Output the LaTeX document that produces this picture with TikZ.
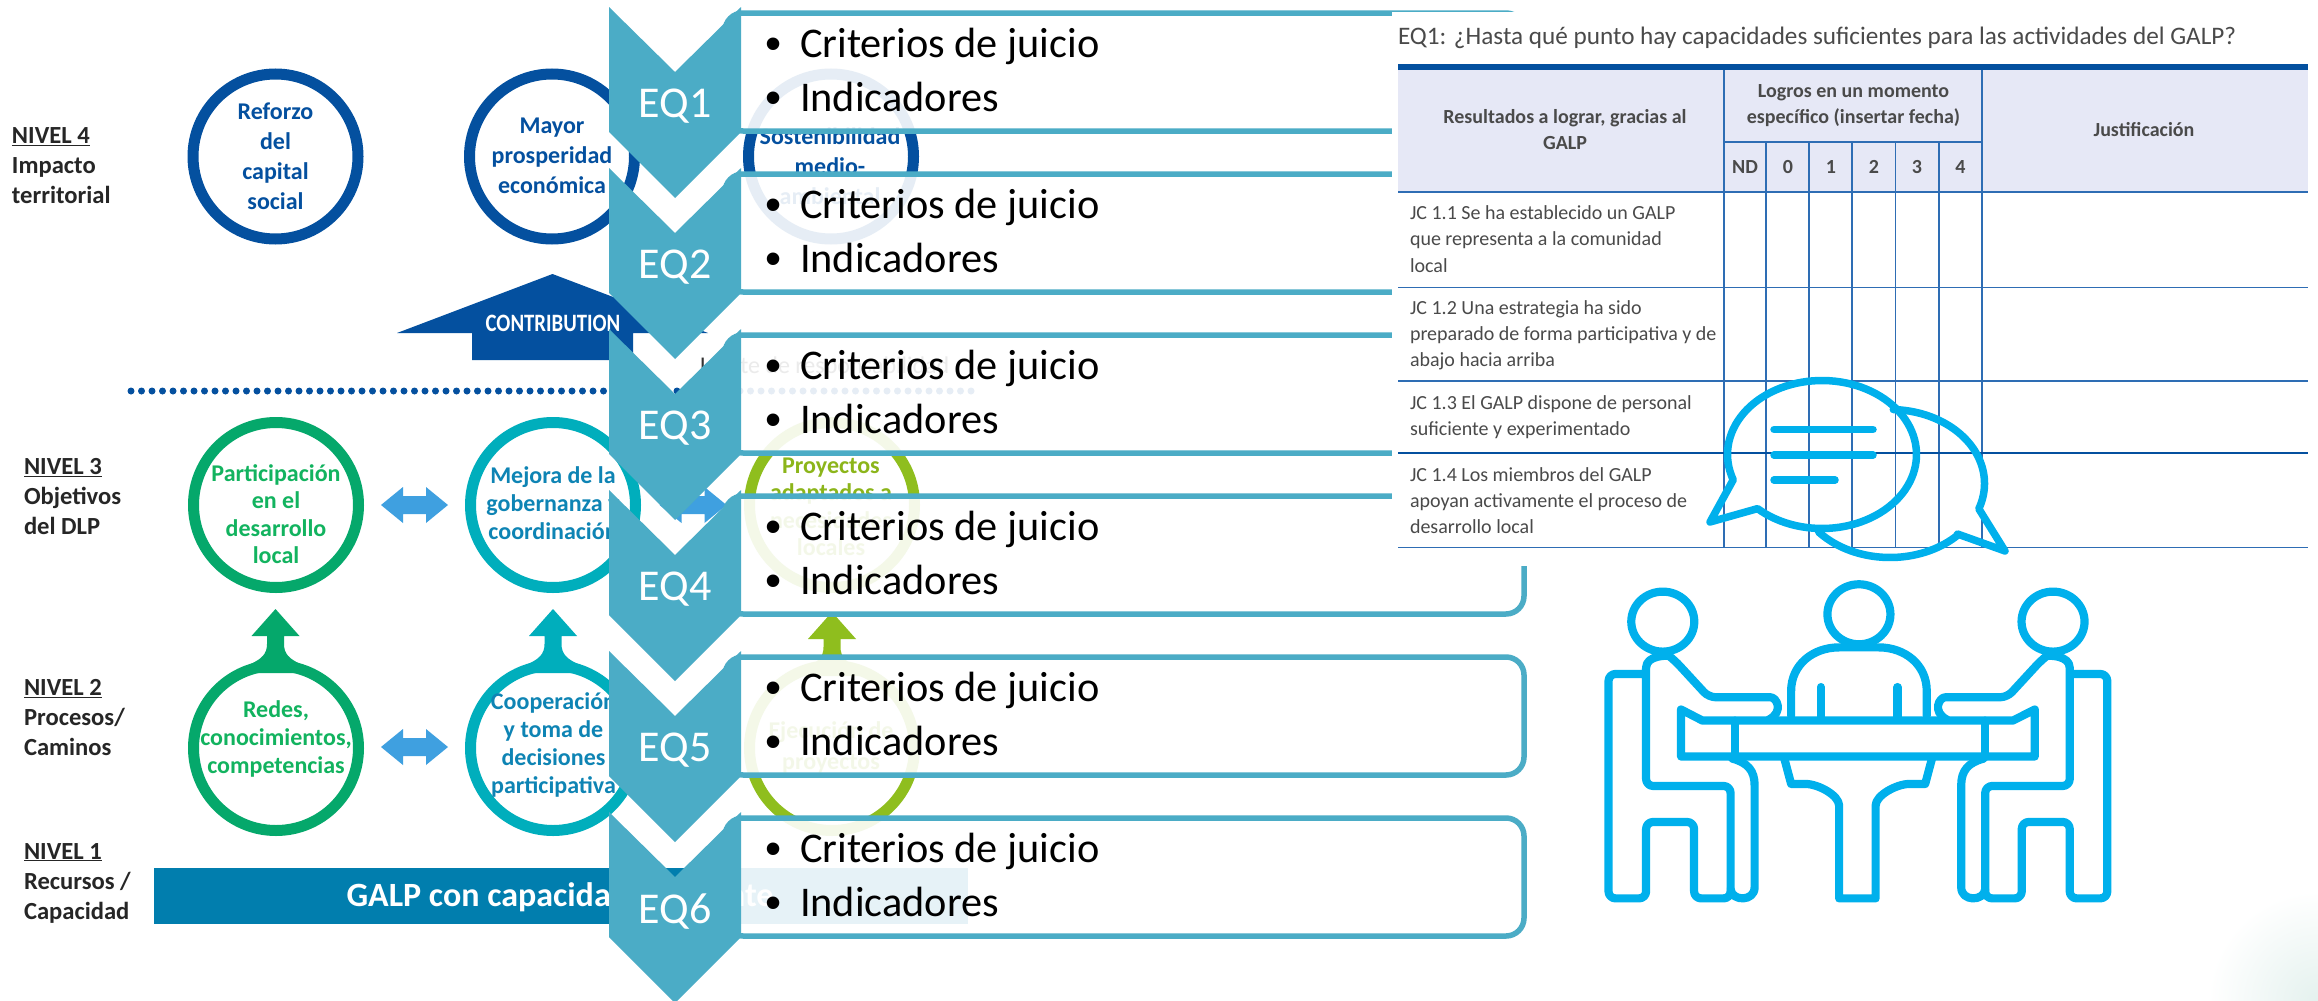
\documentclass[tikz,border=0pt]{standalone}
\usepackage{fontspec}
\setmainfont{Carlito}
\newfontfamily\bulletfont{Liberation Sans}
\definecolor{eqteal}{HTML}{4BACC6}
\definecolor{navy}{HTML}{04509F}
\definecolor{gringreen}{HTML}{05A86B}
\definecolor{grntext}{HTML}{12B35F}
\definecolor{ringteal}{HTML}{00AEBC}
\definecolor{blutext}{HTML}{0E84B4}
\definecolor{lime}{HTML}{8FBE1E}
\definecolor{limetext}{HTML}{8CB51A}
\definecolor{arrowblue}{HTML}{3FA0E0}
\definecolor{barblue}{HTML}{017EAE}
\definecolor{tline}{HTML}{2E6DB4}
\definecolor{thead}{HTML}{E6E8F6}
\definecolor{tgrey}{HTML}{4A4A4A}
\definecolor{iconblue}{HTML}{00B0EC}
\definecolor{cornertint}{HTML}{E4F1EE}
\newcommand{\fs}[2]{\fontsize{#1}{#2}\selectfont}
\tikzset{
  every node/.style={inner sep=0pt,outer sep=0pt},
  lab/.style={anchor=west,align=left,font=\fs{24.6}{30}\bfseries,text=black!85},
  ctxt/.style={align=center,font=\fs{24}{#1}\bfseries},
  ctxt/.default=30,
  ring/.style={draw=#1,line width=11pt},
  dbl/.style={fill=arrowblue},
  eqbox/.style={draw=eqteal,fill=white,fill opacity=.9,line width=5.5pt,rounded corners=18pt},
  chev/.style={fill=eqteal},
  eqlabel/.style={text=white,font=\fs{44}{50}},
  item/.style={anchor=base west,font=\fs{42.3}{50},text=black},
  bul/.style={anchor=base,font=\fs{46}{50}\bulletfont,text=black},
  tl/.style={draw=tline,line width=1.3pt},
  thd/.style={align=center,text=tgrey,font=\fs{20}{26}\bfseries},
  trow/.style={anchor=west,align=left,text=tgrey,font=\fs{20}{26.2}},
  icon/.style={draw=iconblue,line width=8.2pt,line join=round,line cap=round},
}
\newcommand{\dblarrow}[2]{\fill[dbl] (#1-33.5,#2) -- (#1-11.5,#2-18) -- (#1-11.5,#2-9) -- (#1+11.5,#2-9) -- (#1+11.5,#2-18) -- (#1+33.5,#2) -- (#1+11.5,#2+18) -- (#1+11.5,#2+9) -- (#1-11.5,#2+9) -- (#1-11.5,#2+18) -- cycle;}
\newcommand{\uparrowshape}[3]{\fill[#3] (#1,#2) -- (#1+24,#2+27) -- (#1+8.5,#2+27) -- (#1+8.5,#2+35) .. controls (#1+8.5,#2+45) and (#1+14,#2+50) .. (#1+25,#2+55) -- (#1+38,#2+64) -- (#1-38,#2+64) -- (#1-25,#2+55) .. controls (#1-14,#2+50) and (#1-8.5,#2+45) .. (#1-8.5,#2+35) -- (#1-8.5,#2+27) -- (#1-24,#2+27) -- cycle;}
\newcommand{\personpath}{%
  \draw[icon] (312,640) ellipse[x radius=31.5pt,y radius=30pt];
  \draw[icon,rounded corners=7pt] (515,880) .. controls (545,860) and (530,825) .. (505,825) -- (400,825) -- (335,735) .. controls (322,722) and (280,722) .. (280,770) -- (280,1042) -- (442,1042) -- (442,1317) -- (372,1317) -- (372,1130) -- (280,1130) -- (280,1317) -- (208,1317) -- (208,768) -- (280,768);
  \draw[icon] (445,975) .. controls (475,985) and (488,1005) .. (488,1040) -- (488,1290) .. controls (488,1325) and (445,1325) .. (442,1295);
}
\begin{document}
\begin{tikzpicture}[x=1pt,y=-1pt]
\useasboundingbox (0,0) rectangle (2318,1001);
\fill[white] (0,0) rectangle (2318,1001);
\begin{scope}
  \clip (0,0) rectangle (2318,1001);
  \shade[inner color=cornertint,outer color=white] (2318,1001) circle[radius=110pt];
\end{scope}

% ---------- left-hand levels image
\node[lab] (n4) at (12,166) {\underline{NIVEL 4}\\Impacto\\territorial};
\node[lab] (n3) at (24,497) {\underline{NIVEL 3}\\Objetivos\\del DLP};
\node[lab] (n2) at (24,718) {\underline{NIVEL 2}\\Procesos/\\Caminos};
\node[lab] (n1) at (24,883) {\underline{NIVEL 1}\\Recursos /\\Capacidad};

\draw[ring=navy] (275.5,156.5) circle[radius=82.5pt];
\draw[ring=navy] (552,156.5) circle[radius=82.5pt];
\draw[ring=navy] (831,156.5) circle[radius=82.5pt];
\node[ctxt,text=navy] (c41) at (275.5,156) {Reforzo\\del\\capital\\social};
\node[ctxt,text=navy] (c42) at (552,156) {Mayor\\prosperidad\\económica};
\node[ctxt,text=navy] (c43) at (830,166) {Sostenibilidad\\medio-\\ambiental};

\fill[navy] (552.5,274) -- (708,333) -- (633,333) -- (633,360) -- (472,360) -- (472,333) -- (397,333) -- cycle;
\node[text=white,font=\fs{25}{30}\bfseries] (contrib) at (553,323) {\scalebox{.83}[1]{CONTRIBUTION}};
\node[anchor=base west,font=\fs{24}{30},text=black!80] (limite) at (700,373) {Límite de responsabilidad};
\draw[navy,line width=7pt,line cap=round,dash pattern=on 0pt off 10.5pt] (131,391) -- (971,391);

\draw[ring=gringreen] (276,505) circle[radius=82.5pt];
\draw[ring=ringteal] (553,505) circle[radius=82.5pt];
\draw[ring=lime] (832,505) circle[radius=82.5pt];
\node[ctxt=27.5,text=grntext] (c31) at (276,514) {Participación\\en el\\desarrollo\\local};
\node[ctxt=28,text=blutext] (c32) at (553,503) {Mejora de la\\gobernanza y\\coordinación};
\node[ctxt=27.5,text=limetext] (c33) at (831,507) {Proyectos\\adaptados a\\necesidades\\locales};
\dblarrow{414.5}{505}
\dblarrow{693}{505}

\uparrowshape{275.5}{609}{gringreen}
\uparrowshape{553}{609}{ringteal}
\uparrowshape{832}{612}{lime}
\draw[ring=gringreen] (276,748) circle[radius=82.5pt];
\draw[ring=ringteal] (553,748) circle[radius=82.5pt];
\draw[ring=lime] (832,748) circle[radius=82.5pt];
\node[ctxt=28,text=grntext] (c21) at (276,739) {Redes,\\conocimientos,\\competencias};
\node[ctxt=28,text=blutext] (c22) at (553.5,745) {Cooperación\\y toma de\\decisiones\\participativa};
\node[ctxt=31,text=limetext] (c23) at (831,747) {Ejecución de\\proyectos};
\dblarrow{414.5}{747}

\fill[barblue] (154,868) rectangle (968,924);
\node[text=white,font=\fs{34}{38}\bfseries] (galp) at (560,897) {GALP con capacidad suficiente};

% ---------- EQ boxes and chevrons
\foreach \i [evaluate=\i as \o using {161*(\i-1)}] in {1,...,6}{
  \draw[eqbox] (725,13+\o) -- (1524,13+\o) -- (1524,131+\o) -- (725,131+\o) -- cycle;
}
\foreach \i [evaluate=\i as \o using {161*(\i-1)}] in {1,...,6}{
  \fill[chev] (609,7+\o) -- (675,72+\o) -- (741,7+\o) -- (741,132+\o) -- (675,198+\o) -- (609,132+\o) -- cycle;
  \node[eqlabel] (eq\i) at (675,106.5+\o) {EQ\i};
  \node[bul] (ba\i) at (773.5,59+\o) {•};
  \node[item] (cj\i) at (800,57+\o) {Criterios de juicio};
  \node[bul] (bb\i) at (773.5,113+\o) {•};
  \node[item] (in\i) at (800,111+\o) {Indicadores};
}

% ---------- table image
\fill[white] (1392,12) rectangle (2318,566);
\node[anchor=base west,text=tgrey,font=\fs{25.2}{32}] (title) at (1398,44) {EQ1: ¿Hasta qué punto hay capacidades suficientes para las actividades del GALP?};
\fill[thead] (1398,70) rectangle (2308,192);
\fill[navy] (1398,64) rectangle (2308,70);
\foreach \x in {1724,1766,1809,1852,1895.5,1939,1982}{ \draw[tl] (\x,142) -- (\x,547.5); }
\draw[tl] (1724,70) -- (1724,142);
\draw[tl] (1982,70) -- (1982,142);
\draw[tl] (1724,142) -- (1982,142);
\foreach \y in {192,287.5,381,547.5}{ \draw[tl] (1398,\y) -- (2308,\y); }
\draw[navy,line width=1.5pt] (1398,453) -- (2308,453);
\node[thd] (h1) at (1565,130) {Resultados a lograr, gracias al\\GALP};
\node[thd] (h2) at (1853.5,106) {Logros en un momento\\específico (insertar fecha)};
\node[thd] (h3) at (2144,130) {Justificación};
\node[thd] (hnd) at (1745,167) {ND};
\node[thd] (h0) at (1788,167) {0};
\node[thd] (h1b) at (1831,167) {1};
\node[thd] (h2b) at (1874,167) {2};
\node[thd] (h3b) at (1917,167) {3};
\node[thd] (h4b) at (1960.5,167) {4};
\node[trow] (r1) at (1410,239) {JC 1.1 Se ha establecido un GALP\\que representa a la comunidad\\local};
\node[trow] (r2) at (1410,335) {JC 1.2 Una estrategia ha sido\\preparado de forma participativa y de\\abajo hacia arriba};
\node[trow] (r3) at (1410,417) {JC 1.3 El GALP dispone de personal\\suficiente y experimentado};
\node[trow] (r4) at (1410,500.5) {JC 1.4 Los miembros del GALP\\apoyan activamente el proceso de\\desarrollo local};

% ---------- speech bubbles
\draw[icon,line width=7.5pt] plot[domain=272:380,samples=50] ({1890+94.5*cos(\x)},{483.5+74*sin(\x)}) -- (2005,551) -- (1957.5,534) -- plot[domain=45:139,samples=40] ({1890+94.5*cos(\x)},{483.5+74*sin(\x)});
\draw[icon,line width=7.5pt] plot[domain=160:493,samples=100] ({1822+94.5*cos(\x)},{454.5+74*sin(\x)}) -- (1710,522) -- cycle;
\draw[icon,line width=7.5pt] (1774,429.5) -- (1873,429.5);
\draw[icon,line width=7.5pt] (1774,455) -- (1873,455);
\draw[icon,line width=7.5pt] (1774,480) -- (1835,480);

% ---------- meeting icon (drawn in stretched crop units)
\begin{scope}[shift={(1500pt,-360pt)},x=0.5217pt,y=-0.4088pt]
  \personpath
  \begin{scope}[shift={(715.8pt,0pt)},xscale=-1]
    \personpath
  \end{scope}
  \draw[icon] (688,622) ellipse[x radius=31.5pt,y radius=30pt];
  \draw[icon] (558,870) -- (558,810) .. controls (558,745) and (600,703) .. (650,703) -- (726,703) .. controls (776,703) and (818,745) .. (818,810) -- (818,870);
  \draw[icon] (615,800) -- (615,875);
  \draw[icon] (762,800) -- (762,875);
  \draw[icon,line cap=butt] (347,970) -- (347,855) -- (388,882) -- (983,882) -- (1025,855) -- (1025,970) -- cycle;
  \draw[icon] (450,882) -- (450,970);
  \draw[icon] (930,882) -- (930,970);
  \draw[icon] (545,975) -- (558,1037) -- (585,1037) .. controls (610,1037) and (650,1065) .. (650,1090) -- (650,1317) -- (720,1317) -- (720,1090) .. controls (720,1065) and (760,1037) .. (785,1037) -- (815,1037) -- (828,975);
\end{scope}
\end{tikzpicture}
\end{document}
